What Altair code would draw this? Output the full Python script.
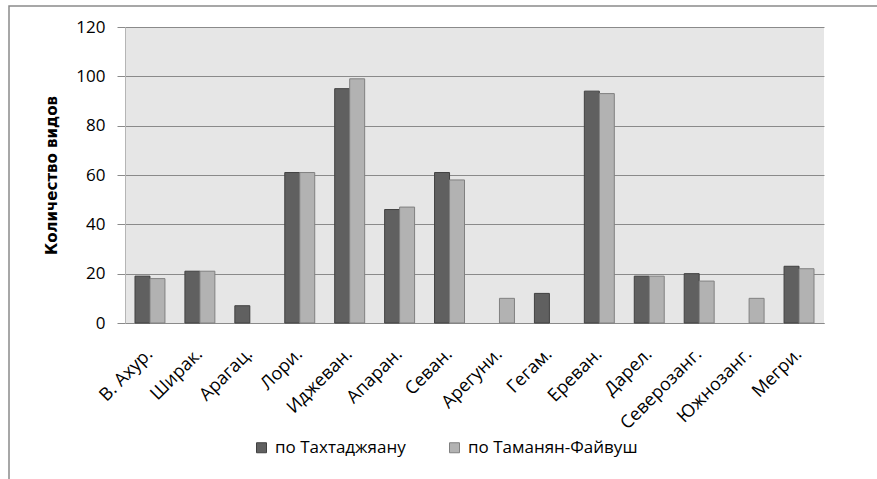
import altair as alt
import pandas as pd

regions = ["В. Ахур.", "Ширак.", "Арагац.", "Лори.", "Иджеван.", "Апаран.", "Севан.",
           "Арегуни.", "Гегам.", "Ереван.", "Дарел.", "Северозанг.", "Южнозанг.", "Мегри."]
takhtajan = [19, 21, 7, 61, 95, 46, 61, 0, 12, 94, 19, 20, 0, 23]
tamanyan = [18, 21, 0, 61, 99, 47, 58, 10, 0, 93, 19, 17, 10, 22]
series = ["по Тахтаджяану", "по Таманян-Файвуш"]

rows = []
for r, a, b in zip(regions, takhtajan, tamanyan):
    rows.append({"region": r, "series": series[0], "value": a})
    rows.append({"region": r, "series": series[1], "value": b})
df = pd.DataFrame(rows)

FONT = "Open Sans"

bars = alt.Chart(df).transform_filter("datum.value > 0").mark_bar(strokeWidth=1).encode(
    x=alt.X("region:N", sort=regions,
            scale=alt.Scale(domain=regions, paddingInner=0.4, paddingOuter=0.2),
            axis=alt.Axis(title=None, labelAngle=-45, labelAlign="right", labelBaseline="middle",
                          ticks=False, labelPadding=28, labelFont=FONT, labelFontSize=18,
                          labelColor="#000000", domainColor="#8a8a8a", labelOverlap=False,
                          labelLimit=0)),
    xOffset=alt.XOffset("series:N", sort=series, scale=alt.Scale(domain=series)),
    y=alt.Y("value:Q", scale=alt.Scale(domain=[0, 120]),
            axis=alt.Axis(title="Количество видов", values=[0, 20, 40, 60, 80, 100, 120],
                          grid=True, gridColor="#8a8a8a", tickColor="#8a8a8a", tickSize=8,
                          domainColor="#b5b5b5", labelFont=FONT, labelFontSize=17,
                          labelColor="#000000", labelPadding=12,
                          titleFont="DejaVu Sans", titleFontSize=15, titleFontWeight="bold",
                          titleColor="#000000", titlePadding=16)),
    color=alt.Color("series:N", sort=series,
                    scale=alt.Scale(domain=series, range=["#606060", "#b2b2b2"]),
                    legend=alt.Legend(title=None, orient="none", direction="horizontal",
                                      legendX=128, legendY=412, symbolType="square",
                                      symbolSize=100, symbolStrokeColor="#555555",
                                      symbolStrokeWidth=1, labelFont=FONT, labelFontSize=17,
                                      labelColor="#000000", columnPadding=40, labelOffset=5,
                                      labelLimit=0)),
    stroke=alt.Stroke("series:N", sort=series,
                      scale=alt.Scale(domain=series, range=["#404040", "#808080"]), legend=None),
)

frame = alt.Chart(pd.DataFrame({"k": [0]})).mark_rect(
    fill="transparent", stroke="#8a8a8a", strokeWidth=1.5
).encode(
    x=alt.value(-116), x2=alt.value(800), y=alt.value(-21), y2=alt.value(500)
)

chart = alt.layer(bars, frame).properties(
    width=699, height=296,
    background="#ffffff",
    autosize=alt.AutoSizeParams(type="none"),
    padding={"left": 125, "top": 27, "right": 53, "bottom": 156},
).configure_view(fill="#e6e6e6", stroke=None)

chart.save("out.html", embed_options={"renderer": "svg", "actions": False})
